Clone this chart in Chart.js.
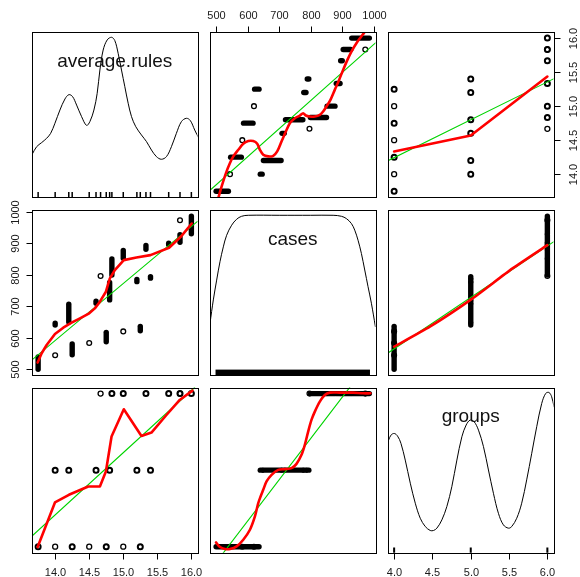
<!DOCTYPE html>
<html><head><meta charset="utf-8">
<script src="https://cdn.jsdelivr.net/npm/chart.js@4.4.1/dist/chart.umd.min.js"></script>
<style>
html,body{margin:0;padding:0;background:#fff;}
#wrap{position:relative;width:580px;height:577px;overflow:hidden;background:#fff;}
#wrap canvas{position:absolute;left:0;top:0;}
</style></head><body><div id="wrap"></div>
<script>
// ---------- data ----------
const varNames = ['average.rules', 'cases', 'groups'];

// one entry per run of rows sharing the same average.rules (cases from..to)
const avgRules  = [13.75, 14.0, 14.25, 14.5, 14.75, 15.0, 15.25, 14.0, 14.2, 14.6, 14.8, 15.2, 15.4, 14.667, 14.833, 15.0, 15.333, 15.667, 15.833, 16.0, 15.833];
const casesFrom = [500, 544, 546, 583, 587, 620, 622, 640, 650, 709, 720, 778, 789, 796, 799, 852, 881, 895, 903, 930, 973];
const casesTo   = [539, 544, 580, 583, 617, 620, 636, 646, 706, 716, 775, 785, 794, 796, 850, 877, 893, 900, 927, 986, 973];
const groupOf   = [4, 4, 4, 4, 4, 4, 4, 5, 5, 5, 5, 5, 5, 6, 6, 6, 6, 6, 6, 6, 6];

const avgRange = [13.66, 16.09];
const casesRange = [480.56, 1005.44];
const groupRange = [3.92, 6.08];

const casesTicks = [500, 600, 700, 800, 900, 1000];
const casesTickLabels = ['500', '600', '700', '800', '900', '1000'];
const avgTicks = [14.0, 14.5, 15.0, 15.5, 16.0];
const avgTickLabels = ['14.0', '14.5', '15.0', '15.5', '16.0'];
const groupTicks = [4.0, 4.5, 5.0, 5.5, 6.0];
const groupTickLabels = ['4.0', '4.5', '5.0', '5.5', '6.0'];

// density curves (relative height)
const avgDensX = [13.665,13.728,13.802,13.875,13.934,13.997,14.070,14.144,14.202,14.256,14.315,14.388,14.461,14.510,14.569,14.617,14.657,14.705,14.764,14.828,14.876,14.925,14.974,15.023,15.072,15.121,15.184,15.267,15.341,15.414,15.487,15.560,15.634,15.707,15.780,15.854,15.927,15.985,16.049,16.112];
const avgDensY = [0.262,0.306,0.331,0.357,0.387,0.448,0.528,0.595,0.621,0.609,0.558,0.488,0.435,0.458,0.528,0.629,0.770,0.891,0.952,0.968,0.948,0.871,0.770,0.669,0.569,0.488,0.427,0.377,0.337,0.286,0.246,0.230,0.246,0.306,0.387,0.458,0.478,0.464,0.407,0.355];
const casesDensX = [480.6,491.1,501.7,512.2,522.8,533.3,549.2,565.0,580.8,601.9,700,800,871.0,897.4,913.2,929.1,939.6,950.1,960.7,971.3,981.8,992.4,1005.0];
const casesDensY = [0.315,0.456,0.576,0.687,0.777,0.847,0.908,0.944,0.962,0.968,0.968,0.968,0.968,0.962,0.948,0.918,0.878,0.817,0.737,0.637,0.536,0.436,0.295];
const groupDensX = [3.928,3.959,4.002,4.045,4.089,4.145,4.211,4.276,4.341,4.406,4.471,4.514,4.558,4.623,4.688,4.753,4.819,4.884,4.940,4.992,5.044,5.101,5.166,5.231,5.296,5.361,5.426,5.492,5.535,5.600,5.665,5.730,5.796,5.861,5.926,5.978,6.021,6.056,6.087];
const groupDensY = [0.682,0.712,0.722,0.706,0.662,0.561,0.421,0.300,0.209,0.159,0.135,0.135,0.149,0.199,0.280,0.400,0.561,0.702,0.773,0.803,0.793,0.742,0.642,0.501,0.360,0.239,0.169,0.149,0.159,0.209,0.300,0.441,0.602,0.763,0.903,0.964,0.970,0.944,0.883];

// linear fits (green) and smooths (red); panel rc = row r (y var), col c (x var)
const lm12X = [480.56, 1005.44], lm12Y = [13.762, 15.93];
const sm12X = [506.9,517.5,531.2,543.9,554.4,570.3,586.1,601.9,617.7,630.4,638.9,649.4,665.2,681.1,693.7,707.4,721.2,733.8,749.7,765.5,776.0,784.5,797.1,813.0,828.8,839.3,849.9,862.6,876.3,890.0,902.7,916.4,929.1,944.9,957.6,969.5];
const sm12Y = [13.649,13.820,14.016,14.163,14.261,14.358,14.447,14.486,14.486,14.447,14.358,14.285,14.261,14.270,14.334,14.481,14.627,14.750,14.823,14.862,14.896,14.862,14.847,14.847,14.872,14.921,14.994,15.092,15.239,15.386,15.533,15.680,15.802,15.924,16.007,16.080];
const lm13X = [3.92, 6.08], lm13Y = [14.198, 15.401];
const sm13X = [4, 5, 6], sm13Y = [14.334, 14.568, 15.435];
const lm21X = [13.66, 16.09], lm21Y = [529.3, 969.4];
const sm21X = [13.743,13.802,13.875,13.997,14.119,14.241,14.364,14.500,14.583,14.657,14.745,14.803,14.876,15.008,15.194,15.399,15.673,15.844,16.005];
const sm21Y = [520.9,550.5,576.9,611.8,631.8,647.7,661.4,677.3,693.1,714.3,745.9,788.2,814.6,846.3,854.8,862.2,885.4,920.3,962.5];
const lm23X = [3.92, 6.08], lm23Y = [551.5, 904.1];
const sm23X = [4, 4.467, 5.006, 5.546, 6], sm23Y = [571.6, 635.0, 721.7, 819.9, 893.9];
const lm31X = [13.66, 16.048], lm31Y = [4.139, 6.08];
const sm31X = [13.743,13.997,14.202,14.486,14.657,14.745,14.828,15.008,15.267,15.414,15.634,15.829,16.015];
const sm31Y = [3.995,4.578,4.678,4.787,4.787,4.982,5.439,5.795,5.447,5.491,5.721,5.917,6.039];
const lm32X = [520.7, 923.8], lm32Y = [3.908, 6.082];
const sm32X = [499.6,512.2,528.0,543.9,565.0,586.1,607.2,623.0,633.6,641.0,649.4,659.9,675.8,696.9,718.0,739.1,754.9,770.8,781.3,791.9,802.4,813.0,828.8,844.6,860.5,892.1,934.3,966.0,989.2];
const sm32Y = [4.056,3.995,3.969,3.969,4.004,4.091,4.221,4.395,4.569,4.656,4.743,4.852,4.939,5.004,5.013,5.026,5.082,5.200,5.330,5.504,5.656,5.765,5.895,5.982,6.013,6.013,6.013,6.004,6.004];

// ---------- layout ----------
const CW = 580, CH = 577;
const colL = [32, 210, 388], rowT = [32, 210, 387.5];
const PW = 165.5, PH = 165.3;
const FONT = '"Liberation Sans", Arial, Helvetica, sans-serif';
const wrap = document.getElementById('wrap');

const zip = (xs, ys) => xs.map((x, i) => ({x, y: ys[i]}));
const lineSet = (xs, ys, color, width, tension) => ({
  data: zip(xs, ys), showLine: true, borderColor: color, borderWidth: width,
  pointRadius: 0, tension: tension || 0, clip: 0, borderJoinStyle: 'round', borderCapStyle: 'round'
});
const fitSets = (lmX, lmY, smX, smY, t) => [
  lineSet(smX, smY, '#ff0000', 2.6, t),
  lineSet(lmX, lmY, '#00d400', 1.1, 0)
];

function casesMarks(other, casesOnX) {
  const sets = [], singles = [];
  for (let i = 0; i < casesFrom.length; i++) {
    const o = other[i];
    if (casesFrom[i] === casesTo[i]) {
      singles.push(casesOnX ? {x: casesFrom[i], y: o} : {x: o, y: casesFrom[i]});
    } else {
      sets.push({
        data: casesOnX ? [{x: casesFrom[i], y: o}, {x: casesTo[i], y: o}] : [{x: o, y: casesFrom[i]}, {x: o, y: casesTo[i]}],
        showLine: true, borderColor: '#000', borderWidth: 5.4, borderCapStyle: 'round',
        pointRadius: 0, clip: false
      });
    }
  }
  sets.push({data: singles, pointRadius: 2.4, pointBorderWidth: 1.3, pointBorderColor: '#000',
    pointBackgroundColor: 'rgba(0,0,0,0)', clip: false});
  return sets;
}
function pointMarks(xs, ys) {
  return [{
    data: zip(xs, ys), pointRadius: 2.5,
    pointBorderWidth: casesFrom.map((f, i) => f === casesTo[i] ? 1.3 : 2),
    pointBorderColor: '#000', pointBackgroundColor: 'rgba(0,0,0,0)', clip: false
  }];
}

function drawAxis(ctx, a, xs, ys, ax) {
  ctx.strokeStyle = '#000'; ctx.lineWidth = 1; ctx.fillStyle = '#1a1a1a';
  ctx.font = '11px ' + FONT;
  ctx.textAlign = 'center'; ctx.textBaseline = 'middle';
  const TL = 6;
  ctx.beginPath();
  if (ax.side === 'top' || ax.side === 'bottom') {
    const y0 = ax.side === 'top' ? Math.round(a.top) + 0.5 : Math.round(a.bottom) + 0.5;
    const dir = ax.side === 'top' ? -1 : 1;
    const px = ax.ticks.map(v => Math.round(xs.getPixelForValue(v)) + 0.5);
    ctx.moveTo(px[0], y0); ctx.lineTo(px[px.length - 1], y0);
    px.forEach(p => { ctx.moveTo(p, y0); ctx.lineTo(p, y0 + dir * TL); });
    ctx.stroke();
    const off = ax.side === 'top' ? 17 : 19;
    px.forEach((p, i) => ctx.fillText(ax.labels[i], p, y0 + dir * off));
  } else {
    const x0 = ax.side === 'left' ? Math.round(a.left) + 0.5 : Math.round(a.right) + 0.5;
    const dir = ax.side === 'left' ? -1 : 1;
    const py = ax.ticks.map(v => Math.round(ys.getPixelForValue(v)) + 0.5);
    ctx.moveTo(x0, py[0]); ctx.lineTo(x0, py[py.length - 1]);
    py.forEach(p => { ctx.moveTo(x0, p); ctx.lineTo(x0 + dir * TL, p); });
    ctx.stroke();
    const off = ax.side === 'left' ? 17 : 19.5;
    py.forEach((p, i) => {
      ctx.save(); ctx.translate(x0 + dir * off, p); ctx.rotate(-Math.PI / 2);
      ctx.fillText(ax.labels[i], 0, 0); ctx.restore();
    });
  }
}

function decor(ex) {
  return {
    id: 'decor',
    afterDraw(chart) {
      const ctx = chart.ctx, a = chart.chartArea, xs = chart.scales.x, ys = chart.scales.y;
      ctx.save();
      if (ex.rug) {
        ctx.strokeStyle = '#000'; ctx.lineWidth = ex.rugWidth || 1.5;
        ctx.beginPath();
        ex.rug.forEach(v => {
          const p = xs.getPixelForValue(v);
          ctx.moveTo(p, a.bottom); ctx.lineTo(p, a.bottom - 5.3);
        });
        ctx.stroke();
      }
      if (ex.rugBand) {
        const p0 = xs.getPixelForValue(ex.rugBand[0]) - 0.6, p1 = xs.getPixelForValue(ex.rugBand[1]) + 0.6;
        ctx.fillStyle = '#000';
        ctx.fillRect(p0, a.bottom - 5.7, p1 - p0, 5.7);
      }
      ctx.strokeStyle = '#000'; ctx.lineWidth = 1;
      const l = Math.round(a.left) + 0.5, t = Math.round(a.top) + 0.5;
      const r = Math.round(a.right) + 0.5, b = Math.round(a.bottom) + 0.5;
      ctx.strokeRect(l, t, r - l, b - t);
      (ex.axes || []).forEach(ax => drawAxis(ctx, a, xs, ys, ax));
      if (ex.label) {
        ctx.fillStyle = '#111'; ctx.font = '19px ' + FONT;
        ctx.textAlign = 'center'; ctx.textBaseline = 'alphabetic';
        ctx.fillText(ex.label, (a.left + a.right) / 2, a.top + 34.5);
      }
      ctx.restore();
    }
  };
}

function makePanel(r, c, xr, yr, datasets, ex) {
  const cv = document.createElement('canvas');
  cv.width = CW; cv.height = CH;
  wrap.appendChild(cv);
  const L = colL[c], T = rowT[r];
  new Chart(cv, {
    type: 'scatter',
    data: {datasets},
    options: {
      responsive: false, animation: false, events: [],
      layout: {padding: {left: L, top: T, right: CW - L - PW, bottom: CH - T - PH}},
      plugins: {legend: {display: false}, tooltip: {enabled: false}, title: {display: false}},
      scales: {
        x: {type: 'linear', min: xr[0], max: xr[1], display: false},
        y: {type: 'linear', min: yr[0], max: yr[1], display: false}
      }
    },
    plugins: [decor(ex)]
  });
}

const densRange = [0, 1];
const uniqueAvg = [...new Set(avgRules)];
const uniqueGroups = [...new Set(groupOf)];

// row 1
makePanel(0, 0, avgRange, densRange, [lineSet(avgDensX, avgDensY, '#000', 1, 0.35)],
  {label: varNames[0], rug: uniqueAvg, rugWidth: 1.5});
makePanel(0, 1, casesRange, avgRange, [...fitSets(lm12X, lm12Y, sm12X, sm12Y, 0.3), ...casesMarks(avgRules, true)],
  {axes: [{side: 'top', ticks: casesTicks, labels: casesTickLabels}]});
makePanel(0, 2, groupRange, avgRange, [...fitSets(lm13X, lm13Y, sm13X, sm13Y, 0), ...pointMarks(groupOf, avgRules)],
  {axes: [{side: 'right', ticks: avgTicks, labels: avgTickLabels}]});
// row 2
makePanel(1, 0, avgRange, casesRange, [...fitSets(lm21X, lm21Y, sm21X, sm21Y, 0), ...casesMarks(avgRules, false)],
  {axes: [{side: 'left', ticks: casesTicks, labels: casesTickLabels}]});
makePanel(1, 1, casesRange, densRange, [lineSet(casesDensX, casesDensY, '#000', 1, 0.35)],
  {label: varNames[1], rugBand: [Math.min(...casesFrom), Math.max(...casesTo)]});
makePanel(1, 2, groupRange, casesRange, [...fitSets(lm23X, lm23Y, sm23X, sm23Y, 0.2), ...casesMarks(groupOf, false)], {});
// row 3
makePanel(2, 0, avgRange, groupRange, [...fitSets(lm31X, lm31Y, sm31X, sm31Y, 0), ...pointMarks(avgRules, groupOf)],
  {axes: [{side: 'bottom', ticks: avgTicks, labels: avgTickLabels}]});
makePanel(2, 1, casesRange, groupRange, [...fitSets(lm32X, lm32Y, sm32X, sm32Y, 0.3), ...casesMarks(groupOf, true)], {});
makePanel(2, 2, groupRange, densRange, [lineSet(groupDensX, groupDensY, '#000', 1, 0.35)],
  {label: varNames[2], rug: uniqueGroups, rugWidth: 2,
   axes: [{side: 'bottom', ticks: groupTicks, labels: groupTickLabels},
          {side: 'right', ticks: groupTicks, labels: groupTickLabels}]});
</script></body></html>
